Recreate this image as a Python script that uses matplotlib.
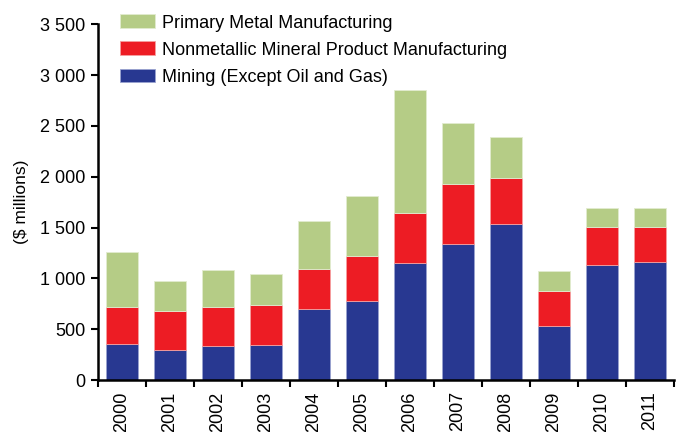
import matplotlib.pyplot as plt
import numpy as np
from matplotlib.ticker import FixedLocator, FuncFormatter

plt.rcParams['font.family'] = ['Liberation Sans', 'DejaVu Sans']

# 数据（$ millions）
years = ['2000', '2001', '2002', '2003', '2004', '2005',
         '2006', '2007', '2008', '2009', '2010', '2011']
mining = [351, 298, 337, 344, 695, 777, 1153, 1340, 1540, 534, 1137, 1157]
nonmetallic = [367, 383, 381, 393, 396, 445, 495, 590, 449, 341, 370, 350]
primary_metal = [540, 292, 363, 305, 477, 587, 1209, 599, 400, 203, 181, 187]

c_blue = '#283891'
c_red = '#ED1C24'
c_green = '#B5CC86'

fig = plt.figure(figsize=(6.76, 4.32), dpi=100)
ax = fig.add_axes([0.145, 0.12, 0.852, 0.824])

x = np.arange(len(years))
w = 0.67
mining = np.array(mining)
nonmetallic = np.array(nonmetallic)
primary_metal = np.array(primary_metal)

b1 = ax.bar(x, mining, w, color=c_blue, edgecolor='#9aa3d0', linewidth=0.6,
            label='Mining (Except Oil and Gas)')
b2 = ax.bar(x, nonmetallic, w, bottom=mining, color=c_red, edgecolor='#f5a0a0',
            linewidth=0.6, label='Nonmetallic Mineral Product Manufacturing')
b3 = ax.bar(x, primary_metal, w, bottom=mining + nonmetallic, color=c_green,
            edgecolor='#e2ebd0', linewidth=0.6, label='Primary Metal Manufacturing')

ax.set_xlim(-0.5, len(years) - 0.5)
ax.set_ylim(0, 3500)
ax.set_yticks(np.arange(0, 3501, 500))
ax.yaxis.set_major_formatter(FuncFormatter(lambda v, p: f'{int(v):,}'.replace(',', ' ')))

ax.set_xticks(x)
ax.set_xticklabels(years, rotation=90)
ax.xaxis.set_minor_locator(FixedLocator(np.arange(-0.5, len(years), 1.0)))
ax.tick_params(axis='x', which='major', length=0, pad=8, labelsize=13)
ax.tick_params(axis='x', which='minor', length=5, width=1.5, direction='out')
ax.tick_params(axis='y', length=5, width=1.5, direction='out', labelsize=13, pad=4)

for s in ['top', 'right']:
    ax.spines[s].set_visible(False)
for s in ['left', 'bottom']:
    ax.spines[s].set_linewidth(1.8)

ax.set_ylabel('($ millions)', fontsize=12.5, labelpad=8)

ax.legend(handles=[b3, b2, b1], loc='upper left', bbox_to_anchor=(0.026, 1.048),
          frameon=False, fontsize=13, handlelength=1.95, handleheight=0.8,
          labelspacing=0.55, handletextpad=0.35, borderaxespad=0)

fig.savefig('out.png', dpi=100)
